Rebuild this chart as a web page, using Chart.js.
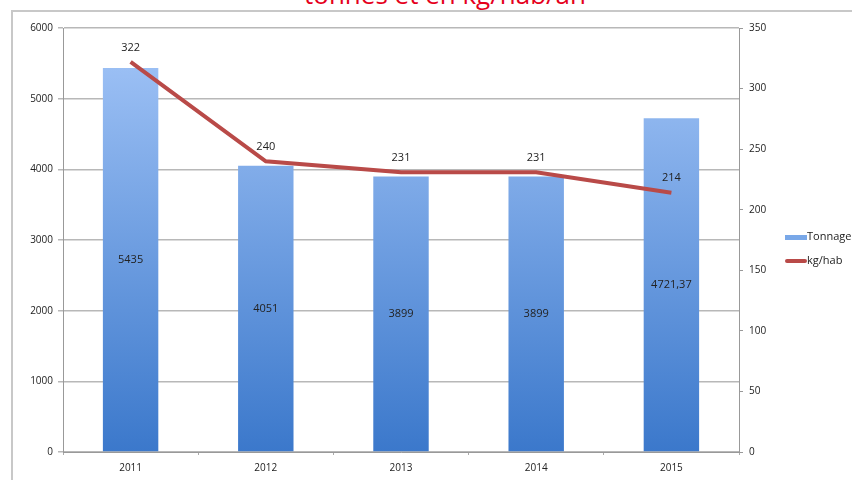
<!DOCTYPE html>
<html>
<head>
<meta charset="utf-8">
<script src="https://cdn.jsdelivr.net/npm/chart.js@4/dist/chart.umd.min.js"></script>
<style>
  html, body { margin: 0; padding: 0; background: #fff; }
  #wrap { position: relative; width: 852px; height: 480px; overflow: hidden; }
  #frame { position: absolute; left: 11px; top: 10px; width: 900px; height: 500px; border: 2px solid #c8c8c8; box-sizing: border-box; }
  #title { position: absolute; left: 0; width: 890px; top: -24px; text-align: center; color: #e5001c; font: 26px "Open Sans", sans-serif; }
  #chart { position: absolute; left: 0; top: 0; }
  .lg { position: absolute; left: 785px; font: 11px "Open Sans", sans-serif; color: #222; white-space: nowrap; }
  .lg i { display: inline-block; width: 22px; vertical-align: middle; margin-right: 0; }
</style>
</head>
<body>
<div id="wrap">
  <div id="frame"></div>
  <div id="title">tonnes et en kg/hab/an</div>
  <canvas id="chart" width="852" height="480"></canvas>
  <div class="lg" style="top:228px"><i style="height:5px;background:#79a8e8"></i>Tonnage</div>
  <div class="lg" style="top:252px"><i style="height:4px;background:#b94a48;border-radius:2px"></i>kg/hab</div>
</div>
<script>
const YEARS = ['2011', '2012', '2013', '2014', '2015'];
const TONNAGE = [5435, 4051, 3899, 3899, 4721.37];
const TONNAGE_LABELS = ['5435', '4051', '3899', '3899', '4721,37'];
const KGHAB = [322, 240, 231, 231, 214];

const FONT = { family: '"Open Sans", sans-serif', size: 10 };

function barGradient(ctx) {
  const area = ctx.chart.chartArea;
  if (!area) return '#6a9de0';
  const g = ctx.chart.ctx.createLinearGradient(0, area.top, 0, area.bottom);
  g.addColorStop(0, '#a4c6f8');
  g.addColorStop(1, '#3b78cb');
  return g;
}

const valueLabels = {
  id: 'valueLabels',
  afterDatasetsDraw(chart) {
    const c = chart.ctx;
    c.save();
    c.font = '11px "Open Sans", sans-serif';
    c.fillStyle = '#222';
    c.textAlign = 'center';
    chart.getDatasetMeta(0).data.forEach((bar, i) => {
      c.textBaseline = 'middle';
      c.fillText(TONNAGE_LABELS[i], bar.x, (bar.y + bar.base) / 2);
    });
    chart.getDatasetMeta(1).data.forEach((pt, i) => {
      c.textBaseline = 'bottom';
      c.fillText(String(KGHAB[i]), pt.x, pt.y - 9);
    });
    c.restore();
  }
};

new Chart(document.getElementById('chart'), {
  data: {
    labels: YEARS,
    datasets: [
      { type: 'bar', label: 'Tonnage', data: TONNAGE, yAxisID: 'y', backgroundColor: barGradient,
        categoryPercentage: 1, barPercentage: 0.41, order: 2 },
      { type: 'line', label: 'kg/hab', data: KGHAB, yAxisID: 'y1', borderColor: '#b94a48',
        borderWidth: 4, pointRadius: 0, tension: 0, order: 1 }
    ]
  },
  options: {
    responsive: false,
    animation: false,
    layout: { padding: { top: 28, left: 0, right: 0, bottom: 0 } },
    plugins: { legend: { display: false }, tooltip: { enabled: false } },
    scales: {
      x: {
        offset: true,
        grid: { offset: true, drawOnChartArea: false, drawTicks: true, tickLength: 3, color: '#aaa' },
        border: { color: '#999', width: 1 },
        ticks: { color: '#222', font: FONT, padding: 7 },
        afterFit: s => { s.height = 28; }
      },
      y: {
        position: 'left', min: 0, max: 6000,
        ticks: { stepSize: 1000, color: '#222', font: FONT, padding: 5, callback: v => String(v) },
        grid: { color: '#b8b8b8', lineWidth: 1.5, tickLength: 5 },
        border: { color: '#999' },
        afterFit: s => { s.width = 63; }
      },
      y1: {
        position: 'right', min: 0, max: 350,
        ticks: { stepSize: 50, color: '#222', font: FONT, padding: 6, callback: v => String(v) },
        grid: { drawOnChartArea: false, tickLength: 4, color: '#999' },
        border: { color: '#999' },
        afterFit: s => { s.width = 113; }
      }
    }
  },
  plugins: [valueLabels]
});
</script>
</body>
</html>
